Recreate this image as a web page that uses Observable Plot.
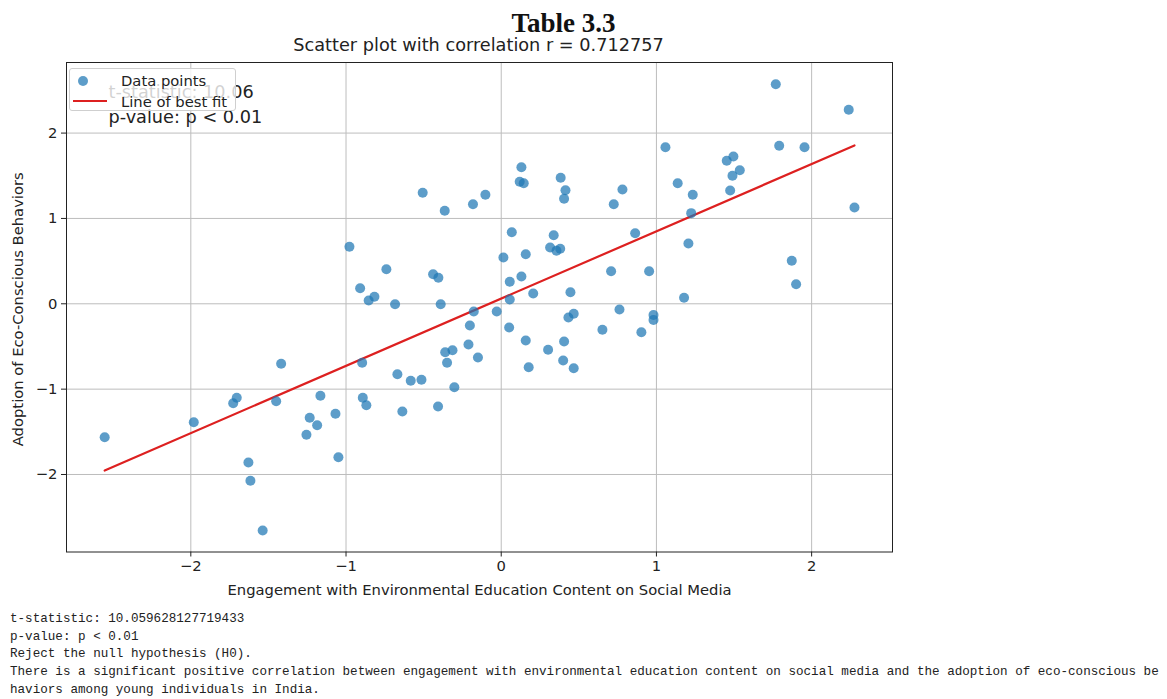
<!DOCTYPE html>
<html>
<head>
<meta charset="utf-8">
<script src="https://cdn.jsdelivr.net/npm/d3@7"></script>
<script src="https://cdn.jsdelivr.net/npm/@observablehq/plot@0.6"></script>
<style>
  html, body { margin: 0; padding: 0; background: #fff; }
  #page { position: relative; width: 1167px; height: 699px; overflow: hidden; font-family: "DejaVu Sans", sans-serif; color: #222; }
  #header { position: relative; height: 56px; }
  #title { position: absolute; left: 0; width: 1127px; top: 10.4px; text-align: center; font-family: "Liberation Serif", serif; font-weight: bold; font-size: 27px; line-height: 1; color: #111; }
  #subtitle { position: absolute; left: 0; width: 957px; top: 37.3px; text-align: center; font-size: 17.7px; line-height: 1; white-space: nowrap; }
  #chart svg { display: block; }
  #legend { position: absolute; left: 69px; top: 68px; width: 165px; height: 41px; background: rgba(255,255,255,0.8); border: 1px solid #cfcfcf; border-radius: 3px; }
  .lg-text { position: absolute; left: 51px; font-size: 14.75px; line-height: 1; white-space: nowrap; }
  #output { position: absolute; left: 10px; top: 611px; margin: 0; font-family: "Liberation Mono", monospace; font-size: 12.6px; line-height: 17.7px; color: #222; white-space: pre; }
</style>
</head>
<body>
<div id="page">
  <div id="header">
    <div id="title">Table 3.3</div>
    <div id="subtitle">Scatter plot with correlation r = 0.712757</div>
  </div>
  <div id="chart"></div>
  <div id="legend">
    <svg width="165" height="41" style="position:absolute;left:0;top:0">
      <circle cx="13" cy="12" r="5" fill="#1f77b4" fill-opacity="0.72"></circle>
      <line x1="3" x2="37" y1="32" y2="32" stroke="#dd2020" stroke-width="2"></line>
    </svg>
    <div class="lg-text" style="top:5px">Data points</div>
    <div class="lg-text" style="top:26px">Line of best fit</div>
  </div>
<pre id="output">t-statistic: 10.059628127719433
p-value: p &lt; 0.01
Reject the null hypothesis (H0).
There is a significant positive correlation between engagement with environmental education content on social media and the adoption of eco-conscious be
haviors among young individuals in India.</pre>
</div>
<script>
// Engagement with Environmental Education Content on Social Media (x)
const engagement = [
  -0.506, -0.364, -0.182, -0.978, -0.740, -0.439, -0.405, -0.909, -0.854, -0.817,
  -0.684, -0.390, -0.177, 1.769, 2.239, 1.058, 1.791, 1.954, 1.453, 1.496,
  1.537, 1.490, 1.475, 0.130, 0.119, 0.145, 0.383, 0.414, 0.405, 0.781,
  0.725, 1.137, 1.234, 1.224, -0.102, 2.276, 0.068, 0.338, 0.863, 0.014,
  0.158, 0.315, 0.356, 0.380, 1.206, 1.872, 1.900, 0.055, 0.130, 0.708,
  0.953, 0.206, 0.446, 1.178, 0.055, -0.029, 0.762, 0.433, 0.467, 0.981,
  0.981, -0.202, -0.211, -0.150, 0.051, 0.158, 0.177, 0.302, 0.405, 0.399,
  0.467, 0.652, 0.903, -0.361, -0.314, -0.349, -0.896, -0.669, -0.583, -0.514,
  -0.302, -1.418, -0.892, -0.869, -0.637, -0.407, -1.727, -1.704, -1.450, -1.165,
  -1.234, -1.186, -1.068, -1.255, -1.049, -1.981, -2.555, -1.629, -1.616, -1.537
];
// Adoption of Eco-Conscious Behaviors (y)
const adoption = [
  1.300, 1.090, 1.167, 0.668, 0.405, 0.347, 0.305, 0.183, 0.039, 0.082,
  -0.005, -0.005, -0.090, 2.573, 2.273, 1.835, 1.851, 1.835, 1.675, 1.726,
  1.565, 1.500, 1.327, 1.600, 1.429, 1.413, 1.476, 1.331, 1.230, 1.339,
  1.167, 1.413, 1.277, 1.062, 1.277, 1.128, 0.839, 0.804, 0.827, 0.542,
  0.581, 0.660, 0.621, 0.644, 0.707, 0.504, 0.230, 0.258, 0.320, 0.382,
  0.382, 0.121, 0.136, 0.070, 0.050, -0.090, -0.067, -0.161, -0.117, -0.131,
  -0.190, -0.254, -0.477, -0.629, -0.278, -0.430, -0.743, -0.539, -0.442, -0.664,
  -0.755, -0.305, -0.333, -0.567, -0.544, -0.691, -0.691, -0.825, -0.902, -0.890,
  -0.977, -0.703, -1.101, -1.188, -1.262, -1.203, -1.165, -1.101, -1.141, -1.078,
  -1.336, -1.422, -1.289, -1.535, -1.797, -1.387, -1.563, -1.859, -2.074, -2.656
];
// Line of best fit endpoints
const fitX = [-2.555, 2.276];
const fitY = [-1.953, 1.855];
const xTicks = [-2, -1, 0, 1, 2];
const yTicks = [-2, -1, 0, 1, 2];
const xLabel = "Engagement with Environmental Education Content on Social Media";
const yLabel = "Adoption of Eco-Conscious Behaviors";
const annotations = ["t-statistic: 10.06", "p-value: p < 0.01"];

const points = engagement.map((x, i) => ({x, y: adoption[i]}));
const fit = fitX.map((x, i) => ({x, y: fitY[i]}));
const fmt = d => d < 0 ? "\u2212" + Math.abs(d) : String(d);

const chart = Plot.plot({
  width: 1167,
  height: 556,
  marginTop: 6,
  marginBottom: 60.5,
  marginLeft: 66,
  marginRight: 275,
  x: {domain: [-2.801, 2.521]},
  y: {domain: [-2.908, 2.827]},
  style: {fontFamily: "DejaVu Sans", fontSize: "14.75px", color: "#222", background: "white", overflow: "visible"},
  marks: [
    Plot.gridX(xTicks, {stroke: "#bdbdbd", strokeOpacity: 1, strokeWidth: 1}),
    Plot.gridY(yTicks, {stroke: "#bdbdbd", strokeOpacity: 1, strokeWidth: 1}),
    Plot.axisX(xTicks, {tickSize: 5, tickPadding: 4, tickFormat: fmt, label: null, fontSize: 14.75}),
    Plot.axisY(yTicks, {tickSize: 5, tickPadding: 4, tickFormat: fmt, label: null, fontSize: 14.75}),
    Plot.frame({stroke: "#222", strokeWidth: 1}),
    Plot.text([annotations[0]], {frameAnchor: "top-left", dx: 42, dy: 30, textAnchor: "start", lineAnchor: "middle", fontSize: 17.7, fill: "#222"}),
    Plot.text([annotations[1]], {frameAnchor: "top-left", dx: 42, dy: 55, textAnchor: "start", lineAnchor: "middle", fontSize: 17.7, fill: "#222"}),
    Plot.line(fit, {x: "x", y: "y", stroke: "#dd2020", strokeWidth: 2.2}),
    Plot.dot(points, {x: "x", y: "y", r: 5, fill: "#1f77b4", fillOpacity: 0.72, stroke: "none"}),
    Plot.text([xLabel], {frameAnchor: "bottom", dy: 38.5, lineAnchor: "middle", fontSize: 14.75, fill: "#222"}),
    Plot.text([yLabel], {frameAnchor: "left", dx: -48, dy: 2, rotate: -90, textAnchor: "middle", lineAnchor: "middle", fontSize: 14.75, fill: "#222"})
  ]
});
document.getElementById("chart").appendChild(chart);
</script>
</body>
</html>
